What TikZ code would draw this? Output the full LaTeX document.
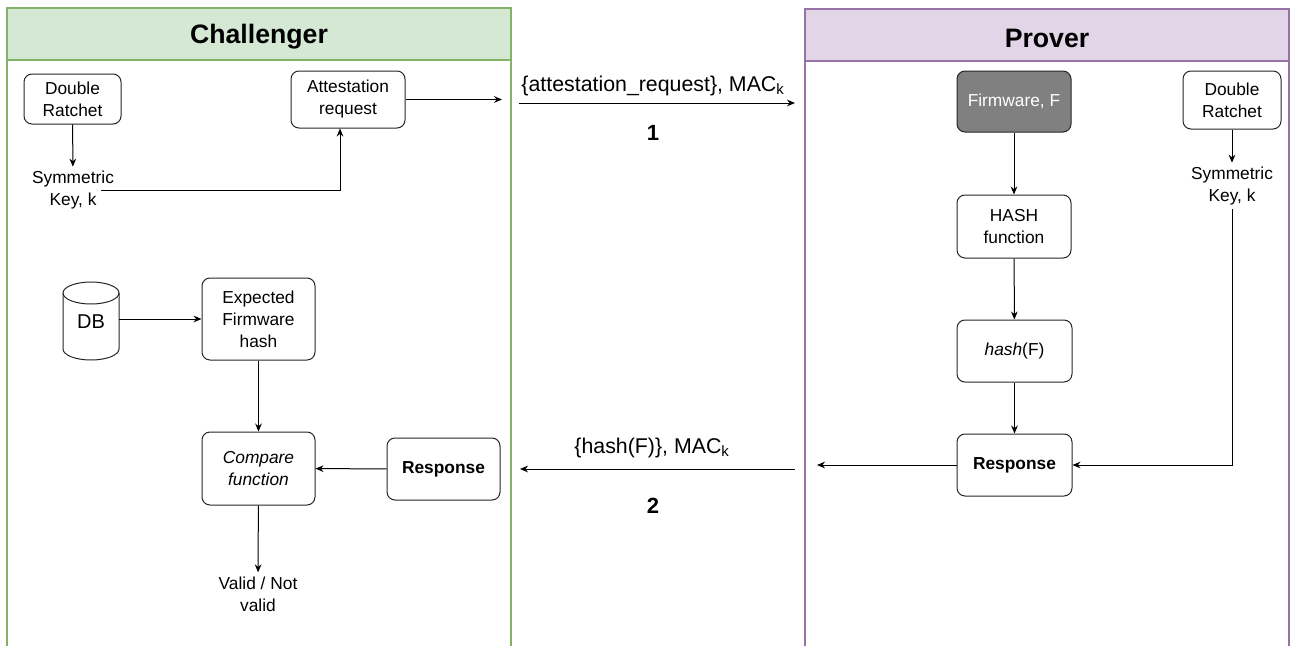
\documentclass[tikz,border=0pt]{standalone}
\usepackage{fontspec}
\setmainfont{Liberation Sans}
\usetikzlibrary{arrows.meta}
\definecolor{chfill}{HTML}{D5E8D4}
\definecolor{chline}{HTML}{82B366}
\definecolor{prfill}{HTML}{E1D5E7}
\definecolor{prline}{HTML}{9673A6}
\definecolor{fwfill}{HTML}{808080}
\begin{document}
\begin{tikzpicture}[x=0.75pt,y=-0.75pt,
  every node/.style={font=\fontsize{13}{16.5}\selectfont},
  box/.style={draw=black!85, line width=0.75pt, rounded corners=6pt, align=center, inner sep=2pt},
  label/.style={align=center, inner sep=3pt},
  arr/.style={-{Stealth[length=6pt,width=5pt]}, line width=0.75pt},
  msg/.style={font=\fontsize{16}{19}\selectfont, inner sep=0pt},
  num/.style={font=\fontsize{16.5}{19}\selectfont\bfseries, inner sep=0pt},
  title/.style={font=\fontsize{20}{24}\selectfont\bfseries, inner sep=0pt}]
\useasboundingbox (0,0) rectangle (1290,646);

% Challenger swimlane
\fill[chfill] (7,8) rectangle (511,60);
\draw[chline, line width=0.9pt] (7,646) -- (7,8) -- (511,8) -- (511,646);
\draw[chline, line width=0.9pt] (7,60) -- (511,60);
\node[title] (chtitle) at (259,37) {Challenger};

% Prover swimlane
\fill[prfill] (805,9) rectangle (1289,61);
\draw[prline, line width=0.9pt] (805,646) -- (805,9) -- (1289,9) -- (1289,646);
\draw[prline, line width=0.9pt] (805,61) -- (1289,61);
\node[title] (prtitle) at (1047,38) {Prover};

% Challenger nodes
\node[box, minimum width=72.75pt, minimum height=37.5pt] (dr1) at (72.5,99) {Double\\Ratchet};
\node[box, minimum width=85.5pt, minimum height=42.75pt] (att) at (348,99.5) {Attestation\\request};
\node[label] (sym1) at (73,190) {Symmetric\\Key, k};
\node[draw=none, minimum width=42pt, minimum height=58.5pt, font=\fontsize{15}{18}\selectfont] (db) at (91,322) {DB};
\node[box, minimum width=84.75pt, minimum height=61.5pt] (exp) at (258.5,319) {Expected\\Firmware\\hash};
\node[box, minimum width=84.75pt, minimum height=54.75pt, font=\fontsize{13}{16.5}\selectfont\itshape] (cmp) at (258.5,468.5) {Compare\\function};
\node[box, minimum width=84.75pt, minimum height=46.5pt, font=\fontsize{13}{16.5}\selectfont\bfseries] (resp1) at (443.5,469) {Response};
\node[label] (valid) at (258,594) {Valid / Not\\valid};

% database cylinder
\draw[black!85, line width=0.75pt] (63,293) -- (63,349)
  arc[start angle=180, end angle=360, x radius=21pt, y radius=8.25pt]
  -- (119,293)
  arc[start angle=0, end angle=180, x radius=21pt, y radius=8.25pt] -- cycle;
\draw[black!85, line width=0.75pt] (63,293)
  arc[start angle=180, end angle=360, x radius=21pt, y radius=8.25pt];

% Challenger connectors
\coordinate (attout) at (502,0);
\draw[arr] (dr1) -- (sym1);
\draw[arr] ([xshift=-13pt]sym1.east) -| ([xshift=-6pt]att.south);
\draw[arr] (att.east) -- (att.east -| attout);
\draw[arr] (db.east |- exp.west) -- (exp.west);
\draw[arr] (exp) -- (cmp);
\draw[arr] (resp1) -- (cmp);
\draw[arr] (cmp) -- (valid);

% messages between the parties
\coordinate (m1s) at (519,103);
\coordinate (m1e) at (795,103);
\draw[arr] (m1s) -- (m1e);
\node[msg] (m1lab) at (653,86) {\{attestation\_request\}, MAC\textsubscript{k}};
\node[num] (m1num) at (653,133) {1};

\coordinate (m2s) at (795,469);
\coordinate (m2e) at (520,469);
\draw[arr] (m2s) -- (m2e);
\node[msg] (m2lab) at (652,448) {\{hash(F)\}, MAC\textsubscript{k}};
\node[num] (m2num) at (653,506) {2};

% Prover nodes
\node[box, fill=fwfill, text=white, minimum width=85.5pt, minimum height=45.75pt] (fw) at (1014,101.5) {Firmware, F};
\node[box, minimum width=85.5pt, minimum height=47.25pt] (hashfn) at (1014,226.5) {HASH\\function};
\node[box, minimum width=86.25pt, minimum height=46.5pt] (hf) at (1014.5,351) {\textit{hash}(F)};
\node[box, minimum width=86.25pt, minimum height=46.5pt, font=\fontsize{13}{16.5}\selectfont\bfseries] (resp2) at (1014.5,465) {Response};
\node[box, minimum width=73.5pt, minimum height=43.5pt] (dr2) at (1232,100) {Double\\Ratchet};
\node[label] (sym2) at (1232,186) {Symmetric\\Key, k};

% Prover connectors
\coordinate (respout) at (817,465);
\draw[arr] (fw) -- (hashfn);
\draw[arr] (hashfn) -- (hf);
\draw[arr] (hf) -- (resp2);
\draw[arr] (dr2) -- (sym2);
\draw[arr] (sym2.south) |- (resp2.east);
\draw[arr] (resp2.west) -- (respout);
\end{tikzpicture}
\end{document}
